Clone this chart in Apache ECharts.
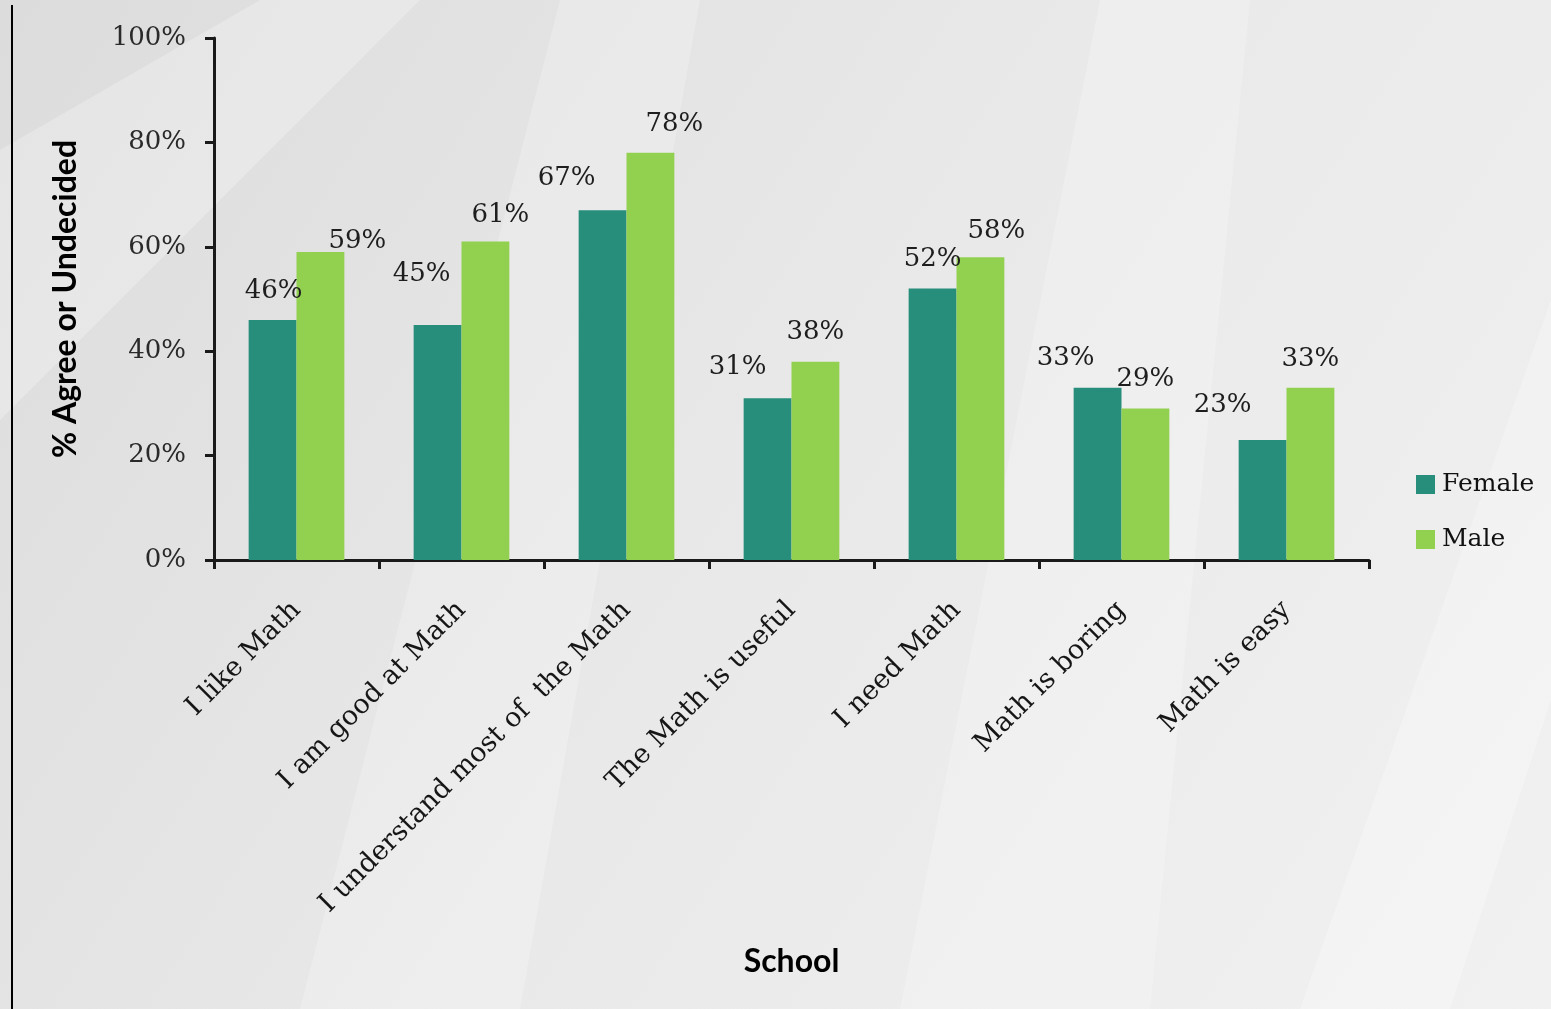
<!DOCTYPE html>
<html>
<head>
<meta charset="utf-8">
<script src="https://cdn.jsdelivr.net/npm/echarts@6/dist/echarts.min.js"></script>
<style>
html,body{margin:0;padding:0;width:1551px;height:1009px;overflow:hidden;}
#chart{width:1551px;height:1009px;}
</style>
</head>
<body>
<div id="chart"></div>
<script>
const categories = ["I like Math", "I am good at Math", "I understand most of  the Math", "The Math is useful", "I need Math", "Math is boring", "Math is easy"];
const femaleValues = [46, 45, 67, 31, 52, 33, 23];
const maleValues = [59, 61, 78, 38, 58, 29, 33];
const yTicks = [0, 20, 40, 60, 80, 100];

// manual label nudges (as placed in the original)
const femaleLabelShift = [[1,0],[-16,-22],[-36,-3],[-30,-2],[0,0],[-32,0],[-40,-6]];
const maleLabelShift = [[37,18],[15,3],[24,0],[0,0],[16,3],[0,0],[0,1]];

const serif = '"DejaVu Serif", "Liberation Serif", serif';
const sans = 'Lato, "DejaVu Sans", sans-serif';

function mkData(vals, shifts){
  return vals.map((v,i)=>({value:v, label:{offset:shifts[i]}}));
}

const chart = echarts.init(document.getElementById('chart'));
chart.setOption({
  backgroundColor: {
    type:'linear', x:0, y:0, x2:1, y2:1,
    colorStops:[{offset:0,color:'#dcdcdc'},{offset:0.5,color:'#e9e9e9'},{offset:1,color:'#f1f1f1'}]
  },
  graphic: [
    {type:'polygon', silent:true, z:-10, shape:{points:[[0,150],[260,0],[420,0],[0,420]]}, style:{fill:'rgba(255,255,255,0.25)'}},
    {type:'polygon', silent:true, z:-10, shape:{points:[[300,1009],[560,0],[700,0],[520,1009]]}, style:{fill:'rgba(255,255,255,0.22)'}},
    {type:'polygon', silent:true, z:-10, shape:{points:[[900,1009],[1100,0],[1250,0],[1150,1009]]}, style:{fill:'rgba(255,255,255,0.22)'}},
    {type:'polygon', silent:true, z:-10, shape:{points:[[1300,1009],[1551,300],[1551,700],[1450,1009]]}, style:{fill:'rgba(255,255,255,0.25)'}},
    {type:'line', silent:true, shape:{x1:12,y1:5,x2:12,y2:1009}, style:{stroke:'#000',lineWidth:2}}
  ],
  grid: {left:214, right:182, top:38, bottom:449, containLabel:false},
  legend: {
    orient:'vertical', left:1411, top:467,
    itemWidth:19, itemHeight:19, itemGap:30,
    icon:'rect',
    textStyle:{fontFamily:serif, fontSize:25, color:'#111', padding:[0,0,0,2]},
    data:['Female','Male']
  },
  xAxis: {
    type:'category', data:categories,
    name:'School', nameLocation:'middle', nameGap:386,
    nameTextStyle:{fontFamily:sans, fontWeight:'bold', fontSize:32, color:'#000'},
    axisLine:{lineStyle:{color:'#1a1a1a', width:3}},
    axisTick:{show:true, length:9, lineStyle:{color:'#1a1a1a', width:3}},
    axisLabel:{rotate:45, interval:0, margin:46, fontFamily:serif, fontSize:27, color:'#161616'}
  },
  yAxis: {
    type:'value', min:0, max:100, interval:20,
    name:'% Agree or Undecided', nameLocation:'middle', nameGap:132, nameRotate:90,
    nameTextStyle:{fontFamily:sans, fontWeight:'bold', fontSize:32, color:'#000'},
    axisLine:{show:true, lineStyle:{color:'#1a1a1a', width:3}},
    axisTick:{show:true, length:9, lineStyle:{color:'#1a1a1a', width:3}},
    splitLine:{show:false},
    axisLabel:{margin:28, fontFamily:serif, fontSize:26, color:'#2a2a2a', formatter:v=>v+'%'}
  },
  series: [
    {name:'Female', type:'bar', data:mkData(femaleValues, femaleLabelShift), barGap:'0%', barCategoryGap:'42%',
     itemStyle:{color:'#268e7a'},
     label:{show:true, position:'top', distance:16, formatter:p=>p.value+'%', fontFamily:serif, fontSize:26, color:'#1e1e1e'}},
    {name:'Male', type:'bar', data:mkData(maleValues, maleLabelShift), barGap:'0%', barCategoryGap:'42%',
     itemStyle:{color:'#92d050'},
     label:{show:true, position:'top', distance:16, formatter:p=>p.value+'%', fontFamily:serif, fontSize:26, color:'#1e1e1e'}}
  ]
});
</script>
</body>
</html>
